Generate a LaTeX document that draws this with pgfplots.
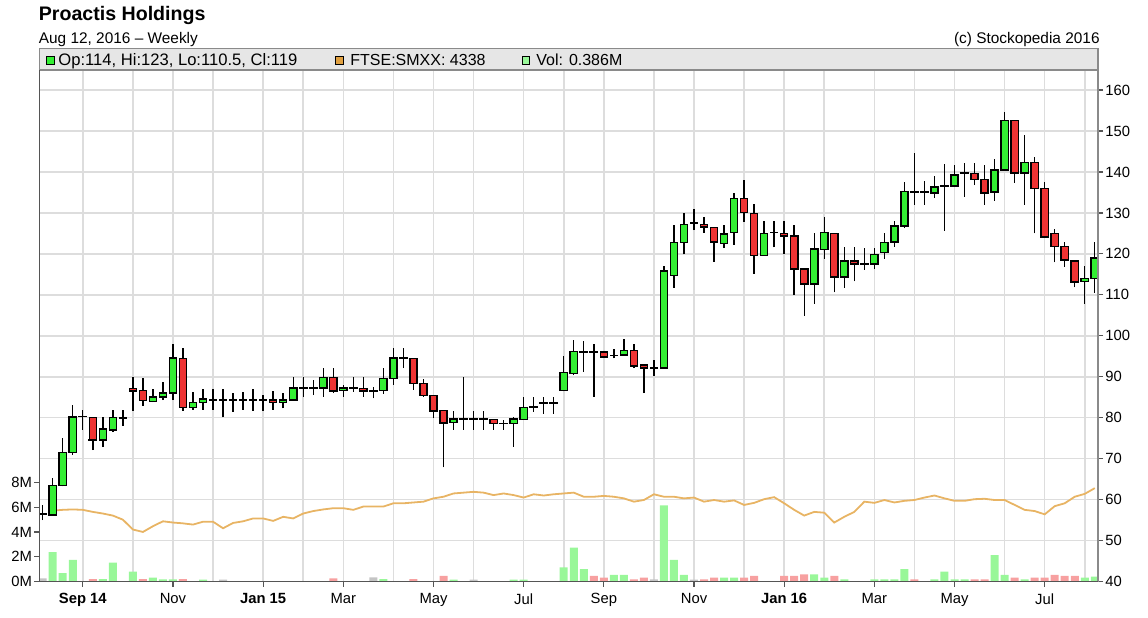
\documentclass[border=0pt]{standalone}
\usepackage{pgfplots}
\pgfplotsset{compat=1.18}
\usepackage{pgfplotstable}
\usepackage{fontspec}
\setmainfont{Liberation Sans}

\definecolor{cgreen}{HTML}{33EE33}
\definecolor{cred}{HTML}{EE3333}
\definecolor{vgreen}{HTML}{99F799}
\definecolor{vred}{HTML}{F7A0A0}
\definecolor{vgray}{HTML}{C4C4C4}
\definecolor{ftse}{HTML}{E8B464}
\definecolor{ftsebox}{HTML}{E0A040}
\definecolor{gridgray}{HTML}{DDDDDD}
\definecolor{stripbg}{HTML}{E6E6E6}
\definecolor{framegray}{HTML}{8A8A8A}
\definecolor{axisgray}{HTML}{555555}

% week index, open, high, low, close, FTSE SmallCap (on price scale)
\pgfplotstableread{
i o h l c f
0 56.4 58.7 55.0 56.4 nan
1 56.2 65.2 56.0 63.4 57.3
2 63.4 75.0 63.2 71.5 57.5
3 71.5 83.1 70.9 80.2 57.6
4 80.3 81.9 77.0 80.3 57.5
5 80.0 80.2 72.1 74.6 57.0
6 74.6 80.1 72.8 77.2 56.6
7 77.0 81.9 76.5 80.0 56.1
8 80.0 81.9 78.0 80.0 55.1
9 87.2 89.9 81.7 86.6 52.7
10 86.6 89.6 82.9 84.2 52.1
11 83.9 86.9 83.8 85.0 53.5
12 85.1 88.8 84.3 86.0 54.7
13 86.0 98.0 84.3 94.5 54.4
14 94.5 96.9 81.7 82.5 54.2
15 82.5 86.3 81.9 83.7 53.9
16 83.7 86.9 81.9 84.5 54.6
17 84.3 86.9 81.9 84.3 54.6
18 84.3 86.9 80.1 84.3 53.0
19 84.3 86.0 81.5 84.3 54.3
20 84.3 86.3 81.9 84.3 54.7
21 84.3 86.9 81.7 84.3 55.4
22 84.3 85.5 81.7 84.3 55.4
23 84.3 86.5 81.9 83.7 54.8
24 83.7 86.1 82.3 84.3 55.8
25 84.3 89.9 84.3 87.2 55.4
26 87.2 89.9 85.0 87.2 56.6
27 87.2 89.2 85.5 87.2 57.2
28 87.3 92.2 85.1 89.8 57.6
29 89.8 92.2 86.0 86.5 57.9
30 86.6 88.0 85.1 87.2 57.9
31 87.2 89.9 86.3 87.2 57.5
32 87.2 89.9 85.1 86.6 58.3
33 86.6 87.6 84.7 86.6 58.3
34 86.6 92.1 85.8 89.5 58.3
35 89.5 96.9 88.0 94.5 59.1
36 94.5 96.9 92.1 94.5 59.1
37 94.5 94.5 86.8 88.4 59.3
38 88.4 89.4 85.1 85.4 59.5
39 85.4 85.4 79.9 81.7 60.3
40 81.7 81.7 67.9 78.8 60.7
41 78.8 81.7 77.0 79.6 61.5
42 79.6 89.9 77.0 79.6 61.7
43 79.6 81.7 77.0 79.6 61.9
44 79.6 81.7 77.0 79.6 61.7
45 79.6 79.6 77.0 78.6 61.1
46 78.6 79.4 77.0 78.6 61.5
47 78.6 80.1 72.9 79.6 61.1
48 79.6 85.1 79.6 82.5 60.5
49 82.6 85.1 81.5 82.6 61.3
50 83.5 85.0 81.0 83.5 61.0
51 83.5 85.0 81.0 83.5 61.3
52 86.6 95.1 86.4 91.0 61.5
53 90.8 99.0 90.4 96.1 61.7
54 96.1 98.8 91.2 96.1 60.7
55 96.1 98.0 85.1 96.1 60.7
56 96.0 96.0 94.6 94.9 60.9
57 95.2 96.8 94.5 95.2 60.7
58 95.3 99.1 95.3 96.4 60.3
59 96.4 98.0 92.1 92.7 59.5
60 92.9 92.9 86.0 92.1 59.9
61 92.1 94.1 90.2 92.1 61.3
62 92.1 117.0 92.1 115.8 60.7
63 114.7 127.1 111.7 122.8 60.7
64 122.8 129.9 119.9 127.2 60.3
65 127.5 131.0 125.8 127.5 60.5
66 127.2 129.1 125.2 126.6 59.5
67 126.4 126.4 118.1 123.0 59.9
68 122.6 127.1 121.4 124.9 59.5
69 125.2 134.8 122.2 133.5 59.8
70 133.5 138.1 127.9 130.1 58.7
71 129.9 132.1 115.1 119.6 59.2
72 119.6 128.1 119.6 125.0 60.1
73 125.2 128.1 121.6 125.2 60.6
74 125.0 128.1 120.0 124.4 59.1
75 124.4 127.1 110.0 116.3 57.5
76 116.3 116.3 104.9 112.7 56.1
77 112.6 125.2 107.8 121.1 57.0
78 121.1 129.1 118.8 125.2 56.8
79 125.0 125.0 110.6 114.4 54.4
80 114.4 121.8 111.7 118.3 55.8
81 118.3 121.8 113.3 117.5 57.0
82 117.5 121.4 116.1 117.5 59.5
83 117.5 121.4 116.2 119.8 59.2
84 120.3 125.2 118.8 122.8 59.9
85 122.9 128.1 121.8 126.8 59.3
86 126.8 137.6 126.3 135.2 59.7
87 135.2 144.7 132.0 135.2 59.9
88 135.2 137.9 132.0 135.2 60.5
89 134.9 139.0 133.6 136.3 61.0
90 136.6 142.0 125.7 136.6 60.3
91 136.6 141.7 136.4 139.3 59.7
92 139.7 142.1 134.0 139.7 59.7
93 139.7 142.1 136.8 138.2 60.1
94 138.2 141.7 132.0 134.9 60.2
95 135.1 143.1 133.0 140.5 59.9
96 140.5 154.7 140.5 152.5 59.9
97 152.5 152.5 137.4 139.8 58.7
98 139.8 149.0 132.0 142.3 57.5
99 142.3 143.7 125.0 136.0 57.2
100 136.0 137.6 124.1 124.1 56.4
101 125.0 126.0 117.9 121.8 58.4
102 121.8 123.0 116.9 118.5 59.1
103 118.3 118.3 111.8 113.2 60.7
104 113.2 117.1 107.8 114.0 61.4
105 114.0 123.0 110.5 119.0 62.8
}\candles

\pgfplotsset{
  chart/.style={
    at={(19.65pt,-290.75pt)}, anchor=south west,
    scale only axis, width=529.35pt, height=255.75pt,
    xmin=-0.34, xmax=105.32,
  },
}

\begin{document}
\begin{tikzpicture}
\begin{scope}[x=0.5pt,y=-0.5pt]
  \useasboundingbox (0,0) rectangle (1148,617);
\end{scope}

% price axis: grid, ticks, index line, wicks
\begin{axis}[chart,
  ymin=40, ymax=164.9,
  axis line style={draw=none},
  tick align=outside,
  xtick pos=bottom, ytick pos=right, yticklabel pos=right,
  major tick length=2.5pt, minor tick length=0pt,
  tick style={axisgray, line width=0.6pt},
  xtick={4,13,22,30,39,48,56,65,74,83,91,100},
  xticklabels={\textbf{Sep 14},Nov,\textbf{Jan 15},Mar,May,Jul,Sep,Nov,\textbf{Jan 16},Mar,May,Jul},
  minor xtick={9,17,26,35,43,52,61,70,78,87,96,104},
  ytick={40,50,...,160},
  xmajorgrids, xminorgrids, ymajorgrids,
  major grid style={gridgray, line width=0.8pt},
  minor grid style={gridgray, line width=0.8pt},
  ticklabel style={font=\fontsize{7.4}{8}\selectfont},
  yticklabel style={inner xsep=1pt},
  /pgf/number format/assume math mode=true,
]
\addplot[ftse, line width=0.9pt, mark=none] table[x=i, y=f] {\candles};
% wicks
\addplot[draw=none, mark=none,
  error bars/.cd, y dir=plus, y explicit, error mark=none,
  error bar style={draw=black, solid, line width=0.7pt}]
  table[x=i, y=l, y error expr=\thisrow{h}-\thisrow{l}] {\candles};
% close ticks (make doji crosses visible)
\addplot[draw=none, mark=none,
  error bars/.cd, x dir=both, x fixed=0.43, error mark=none,
  error bar style={draw=black, solid, line width=0.9pt}]
  table[x=i, y=c] {\candles};
\end{axis}

% volume axis
\begin{axis}[chart,
  ymin=0, ymax=41.4,
  axis line style={draw=none},
  ybar, bar width=4pt, bar shift=0pt,
  xtick=\empty,
  ytick={0,2,4,6,8}, yticklabels={0M,2M,4M,6M,8M},
  ytick pos=left, tick align=outside,
  major tick length=2.5pt,
  tick style={axisgray, line width=0.6pt},
  ticklabel style={font=\fontsize{7.4}{8}\selectfont},
  yticklabel style={inner xsep=1pt},
]
\addplot[fill=vgreen, draw=none] coordinates {
  (1,2.37) (2,0.67) (3,1.75) (6,0.2) (7,1.53) (9,0.8) (11,0.31) (12,0.18)
  (13,0.18) (16,0.15) (34,0.2) (41,0.15) (47,0.15) (48,0.15) (52,1.15)
  (53,2.75) (54,1.0) (57,0.53) (58,0.53) (62,6.16) (63,1.75) (64,0.53)
  (68,0.31) (69,0.31) (77,0.58) (78,0.31) (80,0.18) (83,0.18) (84,0.18)
  (85,0.18) (86,1.0) (89,0.18) (90,0.8) (91,0.18) (92,0.18) (95,2.13)
  (96,0.53) (98,0.18) (104,0.31) (105,0.386)
};
\addplot[fill=vred, draw=none] coordinates {
  (5,0.2) (10,0.2) (14,0.2) (29,0.26) (37,0.2) (40,0.45) (55,0.45) (56,0.31)
  (59,0.18) (60,0.31) (66,0.18) (67,0.31) (70,0.31) (71,0.45) (74,0.45)
  (75,0.45) (76,0.58) (79,0.45) (87,0.18) (93,0.18) (94,0.18) (97,0.31)
  (99,0.31) (100,0.31) (101,0.53) (102,0.45) (103,0.45)
};
\addplot[fill=vgray, draw=none] coordinates {
  (0,0.26) (18,0.15) (33,0.34) (43,0.15) (61,0.18) (65,0.15)
};
\end{axis}

% candle bodies
\begin{axis}[chart,
  ymin=40, ymax=164.9,
  hide axis,
  ybar stacked, bar width=3.6pt,
]
\addplot[draw=none, fill=none] table[x=i, y expr={min(\thisrow{o},\thisrow{c})}] {\candles};
\addplot[fill=cgreen, draw=black, line width=0.7pt] table[x=i, y expr={max(\thisrow{c}-\thisrow{o},0)}] {\candles};
\addplot[fill=cred, draw=black, line width=0.7pt] table[x=i, y expr={max(\thisrow{o}-\thisrow{c},0)}] {\candles};
\end{axis}

\begin{scope}[x=0.5pt,y=-0.5pt]
  % legend strip and frame
  \filldraw[fill=stripbg, draw=framegray, line width=0.6pt] (39.3,48.5) rectangle (1098,70);
  \draw[framegray, line width=0.6pt] (1098,70) -- (1098,581.5);
  \draw[axisgray, line width=0.6pt] (39.3,70) -- (39.3,581.5) -- (1098,581.5);
  % titles
  \node[anchor=base west, inner sep=0, font=\fontsize{9.8}{11}\selectfont\bfseries] at (38.5,20) {Proactis Holdings};
  \node[anchor=base west, inner sep=0, font=\fontsize{7.7}{9}\selectfont] at (38.5,43.3) {Aug 12, 2016 -- Weekly};
  \node[anchor=base east, inner sep=0, font=\fontsize{7.7}{9}\selectfont] at (1100,43.3) {(c) Stockopedia 2016};
  % legend
  \filldraw[fill=cgreen, draw=black, line width=0.5pt] (46.5,56.5) rectangle (54,64);
  \node[anchor=base west, inner sep=0, font=\fontsize{8.3}{9}\selectfont] at (58,65) {Op:114, Hi:123, Lo:110.5, Cl:119};
  \filldraw[fill=ftsebox, draw=black, line width=0.5pt] (335.5,56.5) rectangle (343,64);
  \node[anchor=base west, inner sep=0, font=\fontsize{8}{9}\selectfont] at (350,65) {FTSE:SMXX: 4338};
  \filldraw[fill=vgreen, draw=black, line width=0.5pt] (522,56.5) rectangle (529.5,64);
  \node[anchor=base west, inner sep=0, font=\fontsize{8}{9}\selectfont] at (536,65) {Vol: 0.386M};
\end{scope}
\end{tikzpicture}
\end{document}
